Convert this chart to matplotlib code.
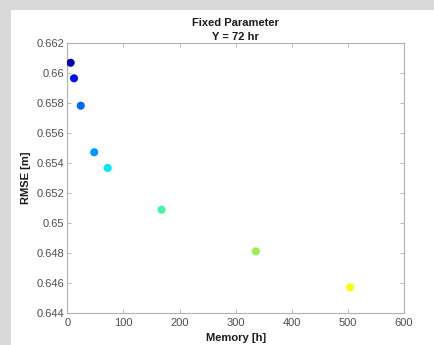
import matplotlib
matplotlib.use("Agg")
import matplotlib.pyplot as plt
from matplotlib.patches import Rectangle

# Memory window lengths and resulting RMSE
memory_h = [6, 12, 24, 48, 72, 168, 336, 504]
rmse_m = [0.66070, 0.65966, 0.65783, 0.65472, 0.65367, 0.65088, 0.64810, 0.64570]
point_colors = ["#0000B0", "#0010EE", "#0068FF", "#0096FF", "#00E8FF",
                "#45F5A0", "#95F050", "#FFFF00"]
x_ticks = [0, 100, 200, 300, 400, 500, 600]
y_ticks = [0.644, 0.646, 0.648, 0.65, 0.652, 0.654, 0.656, 0.658, 0.66, 0.662]
y_tick_labels = ["0.644", "0.646", "0.648", "0.65", "0.652", "0.654",
                 "0.656", "0.658", "0.66", "0.662"]

plt.rcParams["font.family"] = ["Liberation Sans", "DejaVu Sans"]

fig = plt.figure(figsize=(4.34, 3.45), dpi=100)
fig.patch.set_facecolor("#d9d9d9")
fig.patches.append(Rectangle((11 / 434, 0), 1, 1 - 10 / 345,
                             transform=fig.transFigure, facecolor="white",
                             edgecolor="none", zorder=-10))

ax = fig.add_axes([67.3 / 434, 1 - 312.7 / 345, (404 - 67.3) / 434, (312.7 - 43.3) / 345])
ax.set_zorder(1)
ax.scatter(memory_h, rmse_m, c=point_colors, s=34, linewidths=0, zorder=3)

ax.set_xlim(0, 600)
ax.set_ylim(0.644, 0.662)
ax.set_xticks(x_ticks)
ax.set_yticks(y_ticks)
ax.set_yticklabels(y_tick_labels)

tick_color = "#4d4d4d"
for s in ax.spines.values():
    s.set_color("#b0b0b0")
    s.set_linewidth(0.8)
ax.tick_params(direction="in", length=3, width=0.6, color="#b0b0b0",
               labelcolor=tick_color, labelsize=8, top=True, right=True)
ax.tick_params(axis="x", pad=3.5)
ax.tick_params(axis="y", pad=2)

ax.set_xlabel("Memory [h]", fontsize=8, fontweight="bold", color="#1a1a1a", labelpad=4)
ax.set_ylabel("RMSE [m]", fontsize=8, fontweight="bold", color="#1a1a1a", labelpad=4)
ax.set_title("Fixed Parameter\nY = 72 hr", fontsize=8, fontweight="bold",
             color="#1a1a1a", pad=2.5, linespacing=1.45)

fig.savefig("out.png", dpi=100, facecolor=fig.get_facecolor())
